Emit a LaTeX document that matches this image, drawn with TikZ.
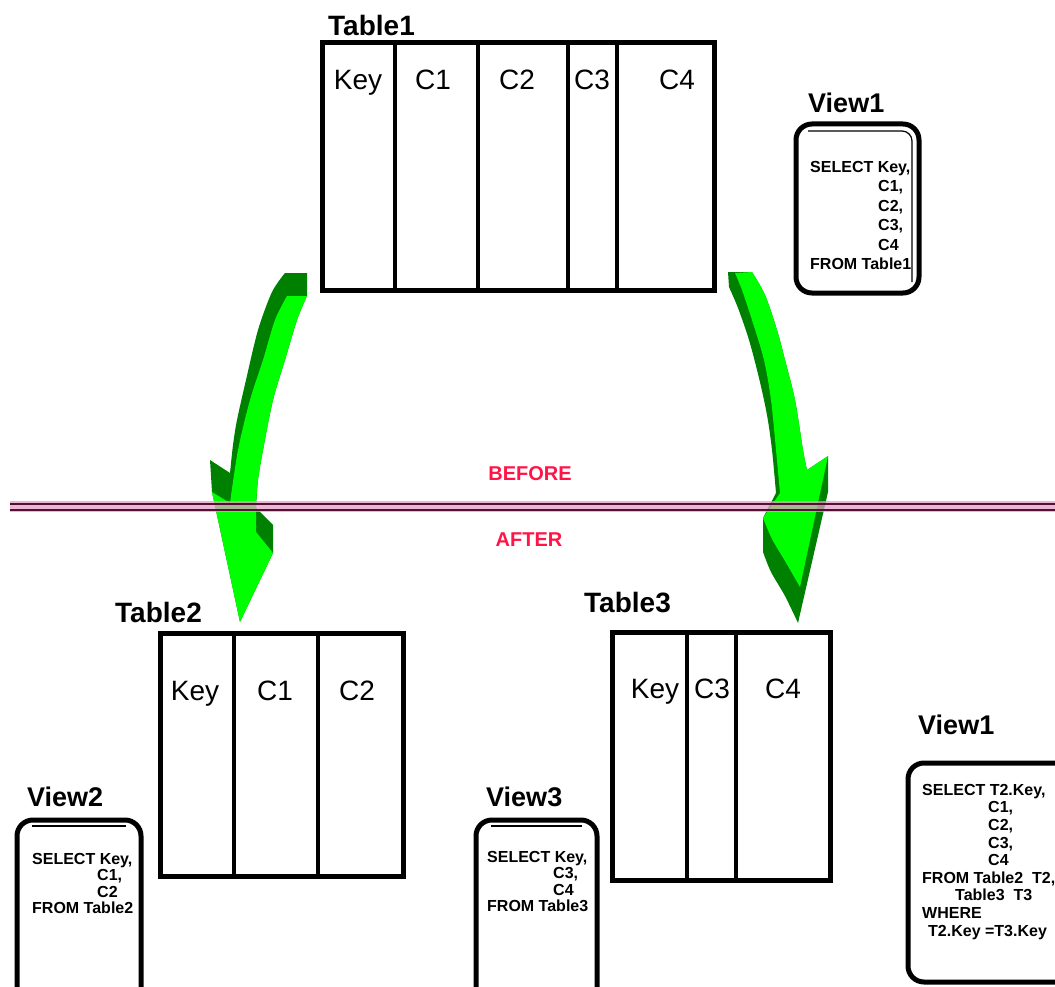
\documentclass[tikz,border=0pt]{standalone}
\usepackage{fontspec}
\setmainfont{Liberation Sans}
\definecolor{arrowlight}{RGB}{0,255,0}
\definecolor{arrowdark}{RGB}{0,128,0}
\definecolor{notered}{RGB}{255,20,70}
\definecolor{linepink}{RGB}{225,160,195}
\definecolor{linedark}{RGB}{85,15,55}
\begin{document}
\begin{tikzpicture}[x=1pt,y=-1pt,
  tbl/.style={draw=black,line width=5pt},
  divider/.style={draw=black,line width=4pt},
  collabel/.style={font=\fontsize{28}{30}\selectfont, inner sep=0pt, anchor=base},
  ttitle/.style={font=\bfseries\fontsize{28}{30}\selectfont, inner sep=0pt, anchor=west},
  vtitle/.style={font=\bfseries\fontsize{27}{30}\selectfont, inner sep=0pt, anchor=west},
  viewframe/.style={draw=black,line width=5pt,rounded corners=16pt},
  viewinner/.style={draw=black,line width=1.2pt},
  sql/.style={font=\bfseries\fontsize{16}{#1}\selectfont, align=left, inner sep=0pt, anchor=north west},
  note/.style={font=\bfseries\fontsize{20}{22}\selectfont, text=notered, inner sep=0pt},
  lightface/.style={fill=arrowlight},
  darkside/.style={fill=arrowdark}
]
\useasboundingbox (0,0) rectangle (1055,987);
\clip (0,0) rectangle (1055,987);

% ---------- Table1 ----------
\node[ttitle] (t1title) at (328,25) {Table1};
\draw[tbl] (322,43) rectangle (714,290);
\draw[divider] (395,43) -- (395,290);
\draw[divider] (478,43) -- (478,290);
\draw[divider] (568,43) -- (568,290);
\draw[divider] (617,43) -- (617,290);
\node[collabel] (t1key) at (358,90) {Key};
\node[collabel] (t1c1) at (433,90) {C1};
\node[collabel] (t1c2) at (517,90) {C2};
\node[collabel] (t1c3) at (592,90) {C3};
\node[collabel] (t1c4) at (677,90) {C4};

% ---------- View1 (before) ----------
\node[vtitle] (v1title) at (808,103) {View1};
\draw[viewframe] (796,124) rectangle (919,293);
\draw[viewinner, rounded corners=10pt] (808,131) -- (912,131) -- (912,282);
\node[sql=19.5] (v1sql) at (810,161) {SELECT Key,\\
\hspace*{68pt}C1,\\
\hspace*{68pt}C2,\\
\hspace*{68pt}C3,\\
\hspace*{68pt}C4\\
FROM Table1};

% ---------- green arrows ----------
% left arrow
\fill[darkside] (285,273) -- (307,273) -- (307,296)
  -- plot[smooth] coordinates {(307,296) (297,320) (285,360) (273,400) (263,450) (258,480) (256,508)}
  -- (273,525) -- (273,553) -- (240,622) -- (212,492) -- (210,460) -- (230,473)
  -- plot[smooth] coordinates {(230,473) (233,445) (237,420) (246,380) (258,330) (272,292) (285,273)}
  -- cycle;
\fill[lightface] (287,296) -- (307,296)
  -- plot[smooth] coordinates {(307,296) (297,320) (285,360) (273,400) (263,450) (258,480) (256,505)}
  -- (256,532) -- (273,553) -- (240,622) -- (212,492) -- (230,503)
  -- plot[smooth] coordinates {(230,503) (238,450) (250,400) (263,360) (275,320) (287,296)}
  -- cycle;
% right arrow
\fill[darkside] (728,272) -- (752,272)
  -- plot[smooth] coordinates {(752,272) (765,295) (777,330) (785,360) (795,400) (803,450) (807,470)}
  -- (828,456) -- (828,492) -- (798,623)
  -- plot[smooth] coordinates {(798,623) (785,596) (771,572) (763,552)}
  -- (763,518) -- (776,493)
  -- plot[smooth] coordinates {(776,493) (772,450) (767,415) (759,378) (749,340) (738,308) (729,287)}
  -- cycle;
\fill[lightface] (735,273) -- (752,272)
  -- plot[smooth] coordinates {(752,272) (765,295) (777,330) (785,360) (795,400) (803,450) (807,470)}
  -- (828,456) -- (800,587)
  -- plot[smooth] coordinates {(800,587) (785,561) (772,539) (763,518)}
  -- (780,493)
  -- plot[smooth] coordinates {(780,493) (776,450) (771,400) (764,360) (752,320) (742,290) (735,273)}
  -- cycle;

% ---------- before / after line ----------
\node[note] (before) at (530,474) {BEFORE};
\node[note] (after) at (529,540) {AFTER};
\fill[linepink, opacity=0.75] (10,501) rectangle (1055,512);
\draw[linedark, line width=2pt] (10,503.5) -- (1055,503.5);
\draw[linedark, line width=2pt] (10,509.5) -- (1055,509.5);

% ---------- Table2 ----------
\node[ttitle] (t2title) at (115,612) {Table2};
\draw[tbl] (160,633) rectangle (403,876);
\draw[divider] (234,633) -- (234,876);
\draw[divider] (318,633) -- (318,876);
\node[collabel] (t2key) at (195,700) {Key};
\node[collabel] (t2c1) at (275,700) {C1};
\node[collabel] (t2c2) at (357,700) {C2};

% ---------- Table3 ----------
\node[ttitle] (t3title) at (584,603) {Table3};
\draw[tbl] (612,632) rectangle (830,880);
\draw[divider] (687,632) -- (687,880);
\draw[divider] (736,632) -- (736,880);
\node[collabel] (t3key) at (655,698) {Key};
\node[collabel] (t3c3) at (712,698) {C3};
\node[collabel] (t3c4) at (783,698) {C4};

% ---------- View2 ----------
\node[vtitle] (v2title) at (27,797) {View2};
\draw[viewframe] (17,820) rectangle (141,1010);
\draw[viewinner] (32,826) -- (126,826);
\node[sql=16.5] (v2sql) at (32,853) {SELECT Key,\\
\hspace*{65pt}C1,\\
\hspace*{65pt}C2\\
FROM Table2};

% ---------- View3 ----------
\node[vtitle] (v3title) at (486,797) {View3};
\draw[viewframe] (476,820) rectangle (597,1010);
\draw[viewinner] (491,826) -- (582,826);
\node[sql=16.5] (v3sql) at (487,851) {SELECT Key,\\
\hspace*{66pt}C3,\\
\hspace*{66pt}C4\\
FROM Table3};

% ---------- View1 (after) ----------
\node[vtitle] (v1btitle) at (918,725) {View1};
\draw[viewframe] (908,763) rectangle (1080,982);
\node[sql=17.6] (v1bsql) at (922,784) {SELECT T2.Key,\\
\hspace*{66pt}C1,\\
\hspace*{66pt}C2,\\
\hspace*{66pt}C3,\\
\hspace*{66pt}C4\\
FROM Table2\ \ T2,\\
\hspace*{33pt}Table3\ \ T3\\
WHERE\\
\hspace*{6pt}T2.Key =T3.Key};
\end{tikzpicture}
\end{document}
